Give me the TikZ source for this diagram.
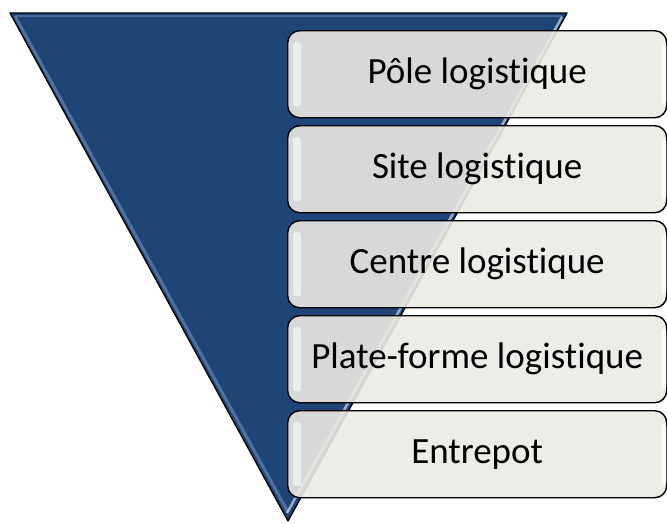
\documentclass[tikz,border=0pt]{standalone}
\usepackage{fontspec}
\setmainfont[RawFeature={-liga;-clig;-calt;-dlig;-rlig}]{Carlito}
\definecolor{funnelblue}{HTML}{1F4577}
\definecolor{funnelglow}{HTML}{6E8FBC}
\definecolor{boxfill}{HTML}{ECEAE3}
\tikzset{
  levelbox/.style={draw=black, line width=1.4pt, rounded corners=12pt,
    fill=boxfill, fill opacity=0.9, text opacity=1,
    minimum width=379pt, minimum height=87pt, inner sep=0pt,
    font=\fontsize{37}{40}\selectfont, text=black},
  shine/.style={fill=white, fill opacity=0.55, draw=none, rounded corners=3pt}
}
\begin{document}
\begin{tikzpicture}[x=1pt, y=-1pt]
\useasboundingbox (0,0) rectangle (667,523);

% funnel
\coordinate (tl) at (10,13);
\coordinate (tr) at (567,13);
\coordinate (ap) at (288,521);
\fill[funnelblue] (tl) -- (tr) -- (ap) -- cycle;
% soft inner glow along the edges
\draw[funnelglow, line width=3pt, opacity=0.6] (15,16) -- (288,512);
\draw[funnelglow, line width=2pt, opacity=0.5] (16,16) -- (562,16);
\draw[white, line width=2.5pt, opacity=0.55] (562,17) -- (287,513);
\draw[black, line width=1.3pt, line join=round] (tl) -- (tr) -- (ap) -- cycle;

% level boxes
\foreach \i/\name/\txt in {0/pole/Pôle logistique, 1/site/Site logistique,
  2/centre/Centre logistique, 3/plate/Plate-forme logistique, 4/entrepot/Entrepot} {
  \node[levelbox, anchor=north west] (\name) at (287,{30+95*\i}) {\txt};
  \fill[shine] ([xshift=6pt,yshift=-12pt]\name.north west) rectangle ([xshift=14pt,yshift=12pt]\name.south west);
  \fill[shine, fill opacity=0.8] ([xshift=-6pt,yshift=-14pt]\name.north east) rectangle ([xshift=-1pt,yshift=14pt]\name.south east);
}
\end{tikzpicture}
\end{document}
